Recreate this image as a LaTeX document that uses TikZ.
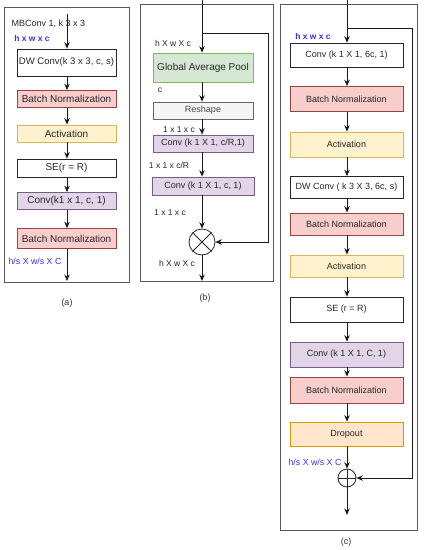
\documentclass[tikz,border=0pt]{standalone}
\usepackage{fontspec}
\setmainfont{Liberation Sans}
\usetikzlibrary{arrows.meta,positioning}

\definecolor{bnfill}{HTML}{F8CECC}\definecolor{bnline}{HTML}{B85450}
\definecolor{actfill}{HTML}{FFF2CC}\definecolor{actline}{HTML}{D6B656}
\definecolor{convfill}{HTML}{E1D5E7}\definecolor{convline}{HTML}{9673A6}
\definecolor{gapfill}{HTML}{D5E8D4}\definecolor{gapline}{HTML}{82B366}
\definecolor{shapefill}{HTML}{F5F5F5}\definecolor{shapeline}{HTML}{666666}
\definecolor{dropfill}{HTML}{FFE6CC}\definecolor{dropline}{HTML}{D79B00}
\definecolor{dimblue}{HTML}{3333FF}

\begin{document}
\begin{tikzpicture}[x=1pt, y=-1pt,
    box/.style={rectangle, draw=black!85, line width=0.7pt, inner sep=0pt, text=black!85, font=\fontsize{9}{10}\selectfont},
    big/.style={font=\fontsize{10}{11}\selectfont},
    bn/.style={box, fill=bnfill, draw=bnline!80!black},
    act/.style={box, fill=actfill, draw=actline},
    conv/.style={box, fill=convfill, draw=convline!80!black},
    frame/.style={draw=black!65, line width=0.8pt},
    dim/.style={font=\fontsize{8.5}{10}\selectfont, text=black!85},
    bluedim/.style={font=\fontsize{8.5}{10}\selectfont\bfseries, text=dimblue},
    arrow/.style={-{Stealth[length=6.5pt, width=5.5pt]}, line width=0.9pt, black!90},
    panel/.style={font=\fontsize{9}{10}\selectfont, text=black!80}
]
    \useasboundingbox (0,0) rectangle (425,550);

    % (a) MBConv1
    \draw[frame] (4,7) rectangle (129,282);
    \node[dim, anchor=west, font=\fontsize{9}{10}\selectfont] (mbname) at (8,24) {MBConv 1, k 3 x 3};
    \coordinate (inA) at (67,14);
    \node[bluedim] (dimAin) at (32,38) {h x w x c};
    \node[box, font=\fontsize{9.5}{11}\selectfont, minimum width=99pt, minimum height=27pt] (dwA) at (66.5,62.5) {DW Conv(k 3 x 3, c, s)};
    \node[bn, big, minimum width=99pt, minimum height=17pt] (bnA1) at (66.5,99) {Batch Normalization};
    \node[act, big, minimum width=99pt, minimum height=17pt] (actA) at (66.5,133.5) {Activation};
    \node[box, big, minimum width=99pt, minimum height=18pt] (seA) at (66.5,168) {SE(r = R)};
    \node[conv, big, minimum width=99pt, minimum height=17pt] (convA) at (66.5,201) {Conv(k1 x 1, c, 1)};
    \node[bn, big, minimum width=99pt, minimum height=20pt] (bnA2) at (66.5,238.5) {Batch Normalization};
    \node[bluedim, font=\fontsize{8.8}{10}\selectfont] (dimAout) at (35,261) {h/s X w/s X C};
    \coordinate (outA) at (67,281);
    \node[panel] (capA) at (67,303) {(a)};

    \draw[arrow] (inA) -- (dwA.north -| inA);
    \draw[arrow] (dwA.south -| inA) -- (bnA1.north -| inA);
    \draw[arrow] (bnA1.south -| inA) -- (actA.north -| inA);
    \draw[arrow] (actA.south -| inA) -- (seA.north -| inA);
    \draw[arrow] (seA.south -| inA) -- (convA.north -| inA);
    \draw[arrow] (convA.south -| inA) -- (bnA2.north -| inA);
    \draw[arrow] (bnA2.south -| inA) -- (outA);

    % (b) squeeze and excitation
    \draw[frame] (140,4) rectangle (273,281);
    \coordinate (inB) at (202,0);
    \coordinate (splitB) at (202,33);
    \coordinate (cornerB) at (268,33);
    \node[dim] (dimB1) at (173,43) {h X w X c};
    \node[box, big, fill=gapfill, draw=gapline, minimum width=100pt, minimum height=29pt] (gap) at (203,67.5) {Global Average Pool};
    \node[dim] (dimB2) at (160,90) {c};
    \node[box, fill=shapefill, draw=shapeline, minimum width=100pt, minimum height=17pt, text=black!70] (reshape) at (203,110.5) {Reshape};
    \node[dim] (dimB3) at (179,130) {1 x 1 x c};
    \node[conv, minimum width=100pt, minimum height=17pt] (convB1) at (203,143.5) {Conv (k 1 X 1, c/R,1)};
    \node[dim] (dimB4) at (169,165) {1 x 1 x c/R};
    \node[conv, minimum width=102pt, minimum height=18pt] (convB2) at (203,186) {Conv (k 1 X 1, c, 1)};
    \node[dim] (dimB5) at (170,213) {1 x 1 x c};
    \node[circle, draw=black!85, line width=0.8pt, minimum size=26pt, inner sep=0pt] (mul) at (202,242) {};
    \draw[line width=0.8pt, black!85] (mul.45) -- (mul.225) (mul.135) -- (mul.315);
    \node[dim] (dimB6) at (177,263) {h X w X c};
    \coordinate (outB) at (202,281);
    \node[panel] (capB) at (205,298) {(b)};

    \draw[arrow] (inB) -- (gap.north -| inB);
    \draw[arrow] (gap.south -| inB) -- (reshape.north -| inB);
    \draw[arrow] (reshape.south -| inB) -- (convB1.north -| inB);
    \draw[arrow] (convB1.south -| inB) -- (convB2.north -| inB);
    \draw[arrow] (convB2.south -| inB) -- (mul.north);
    \draw[arrow] (mul.south) -- (outB);
    \draw[arrow] (splitB) -- (cornerB) |- (mul.east);

    % (c) MBConv6
    \draw[frame] (280,4) rectangle (417,530);
    \coordinate (inC) at (347,0);
    \coordinate (splitC) at (347,28);
    \coordinate (cornerC) at (412,28);
    \node[bluedim] (dimCin) at (313,36) {h x w x c};
    \node[box, minimum width=113pt, minimum height=24pt] (convC1) at (346.5,55) {Conv (k 1 X 1, 6c, 1)};
    \node[bn, minimum width=113pt, minimum height=25pt] (bnC1) at (346.5,99) {Batch Normalization};
    \node[act, minimum width=113pt, minimum height=25pt] (actC1) at (346.5,144.5) {Activation};
    \node[box, minimum width=113pt, minimum height=22pt] (dwC) at (346.5,187.5) {DW Conv ( k 3 X 3, 6c, s)};
    \node[bn, minimum width=113pt, minimum height=22pt] (bnC2) at (346.5,224) {Batch Normalization};
    \node[act, minimum width=113pt, minimum height=22pt] (actC2) at (346.5,266) {Activation};
    \node[box, minimum width=113pt, minimum height=25pt] (seC) at (346.5,309.5) {SE (r = R)};
    \node[conv, minimum width=113pt, minimum height=25pt] (convC2) at (346.5,354.5) {Conv (k 1 X 1, C, 1)};
    \node[bn, minimum width=113pt, minimum height=26pt] (bnC3) at (346.5,390) {Batch Normalization};
    \node[box, fill=dropfill, draw=dropline, minimum width=113pt, minimum height=24pt] (drop) at (346.5,434) {Dropout};
    \node[bluedim, font=\fontsize{8.8}{10}\selectfont] (dimCout) at (315,462) {h/s X w/s X C};
    \node[circle, draw=black!85, line width=0.8pt, minimum size=18pt, inner sep=0pt] (add) at (347,478) {};
    \draw[line width=0.8pt, black!85] (add.north) -- (add.south) (add.west) -- (add.east);
    \coordinate (outC) at (347,515);
    \node[panel] (capC) at (346,542) {(c)};

    \draw[arrow] (inC) -- (convC1.north -| inC);
    \draw[arrow] (convC1.south -| inC) -- (bnC1.north -| inC);
    \draw[arrow] (bnC1.south -| inC) -- (actC1.north -| inC);
    \draw[arrow] (actC1.south -| inC) -- (dwC.north -| inC);
    \draw[arrow] (dwC.south -| inC) -- (bnC2.north -| inC);
    \draw[arrow] (bnC2.south -| inC) -- (actC2.north -| inC);
    \draw[arrow] (actC2.south -| inC) -- (seC.north -| inC);
    \draw[arrow] (seC.south -| inC) -- (convC2.north -| inC);
    \draw[arrow] (convC2.south -| inC) -- (bnC3.north -| inC);
    \draw[arrow] (bnC3.south -| inC) -- (drop.north -| inC);
    \draw[arrow] (drop.south -| inC) -- (add.north);
    \draw[arrow] (add.south) -- (outC);
    \draw[arrow] (splitC) -- (cornerC) |- (add.east);

\end{tikzpicture}
\end{document}
